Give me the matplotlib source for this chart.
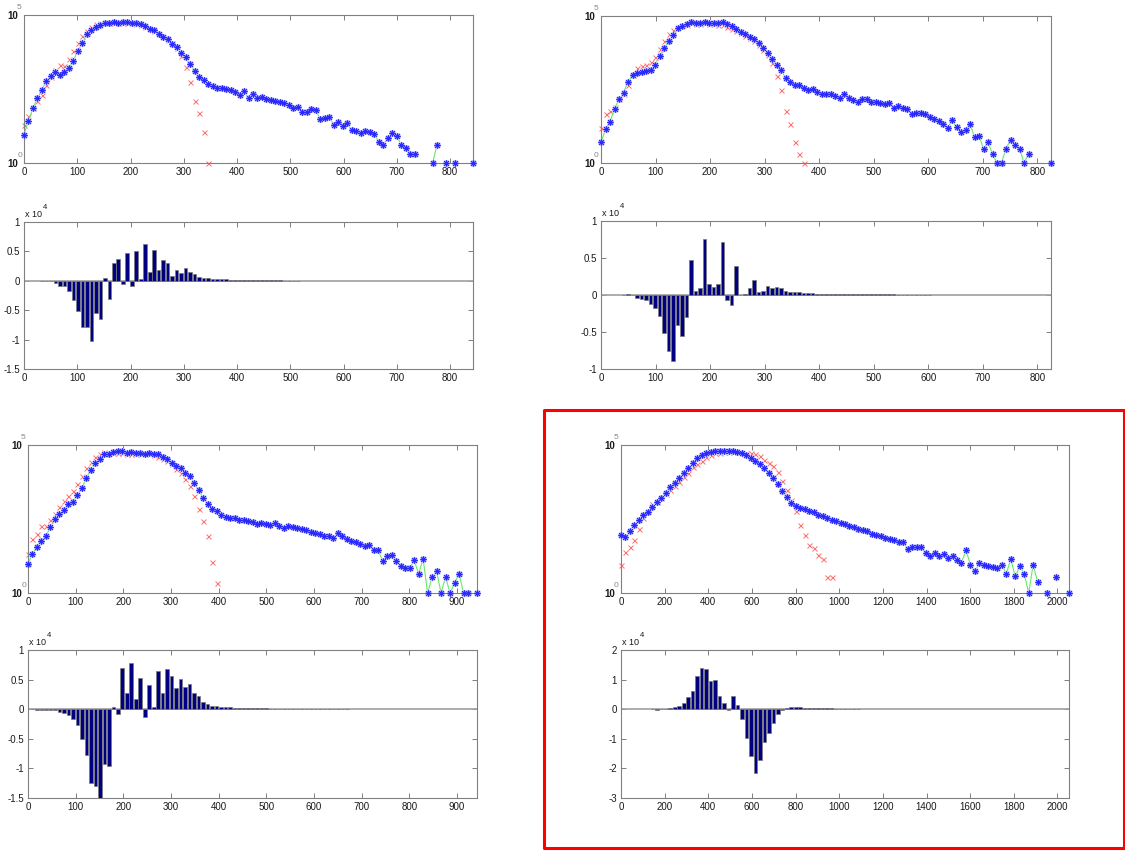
import numpy as np
import matplotlib
matplotlib.use("Agg")
import matplotlib.pyplot as plt
from matplotlib import transforms
from matplotlib.patches import Rectangle
from matplotlib.ticker import NullLocator, FuncFormatter

plt.rcParams['font.family'] = ['Liberation Sans', 'DejaVu Sans']

nan = np.nan

# ---- panel 1 (top left) ----
bin1 = 8.43
blue1 = [0.96, 1.43, 1.85, 2.19, 2.47, 2.78, 2.94, 3.07, 2.98, 3.07,
         3.22, 3.45, 3.80, 4.04, 4.35, 4.49, 4.61, 4.66, 4.72, 4.74,
         4.75, 4.74, 4.75, 4.76, 4.72, 4.74, 4.70, 4.63, 4.52, 4.49,
         4.35, 4.27, 4.18, 4.02, 3.93, 3.73, 3.57, 3.34, 3.12, 2.89,
         2.81, 2.67, 2.61, 2.55, 2.53, 2.51, 2.45, 2.39, 2.30, 2.42,
         2.19, 2.33, 2.18, 2.22, 2.15, 2.13, 2.11, 2.06, 2.02, 1.96,
         1.85, 1.89, 1.71, 1.73, 1.82, 1.78, 1.48, 1.53, 1.54, 1.29,
         1.37, 1.24, 1.35, 1.10, 1.09, 1.01, 1.08, 1.06, 0.99, 0.71,
         0.62, 0.84, 1.01, 0.92, 0.62, 0.51, 0.31, 0.31, nan, nan,
         nan, 0, 0.62, nan, 0, nan, 0, nan, nan, nan, 0]
red1 = [1.29, 1.60, 1.85, 2.08, 2.30, 2.64, 2.92, 3.15, 3.30, 3.29,
        3.52, 3.79, 4.04, 4.29, 4.46, 4.61, 4.69, 4.72, 4.73, 4.74,
        4.74, 4.73, 4.73, 4.73, 4.72, 4.70, 4.67, 4.60, 4.52, 4.45,
        4.36, 4.25, 4.15, 4.05, 3.88, 3.60, 3.24, 2.72, 2.08, 1.69,
        1.04, 0]
diff1_start = 4
diff1 = [0.005, 0.005, -0.01, -0.045, -0.09, -0.09, -0.17, -0.33, -0.51, -0.78,
         -0.78, -1.03, -0.55, -0.65, 0.05, -0.31, 0.31, 0.37, -0.06, 0.47,
         -0.08, 0.50, 0.03, 0.63, 0.15, 0.53, 0.18, 0.36, 0.31, 0.09,
         0.18, 0.14, 0.21, 0.15, 0.12, 0.06, 0.05, 0.04, 0.035, 0.03,
         0.03, 0.025, 0.02, 0.02, 0.015, 0.02, 0.015, 0.01, 0.012, 0.01,
         0.008, 0.008, 0.006, 0.006, 0.005, 0.005, 0.005, 0.004]

# ---- panel 2 (top right) ----
bin2 = 8.25
blue2 = [0.70, 1.14, 1.40, 1.85, 2.16, 2.39, 2.76, 2.98, 3.07, 3.10,
         3.13, 3.16, 3.34, 3.64, 3.90, 4.15, 4.34, 4.58, 4.66, 4.74,
         4.80, 4.77, 4.77, 4.81, 4.77, 4.77, 4.75, 4.81, 4.72, 4.66,
         4.57, 4.45, 4.38, 4.28, 4.23, 4.07, 3.92, 3.75, 3.55, 3.35,
         3.16, 2.90, 2.75, 2.67, 2.64, 2.56, 2.50, 2.52, 2.43, 2.36,
         2.36, 2.33, 2.27, 2.22, 2.33, 2.22, 2.13, 2.07, 2.16, 2.18,
         2.09, 2.07, 2.05, 1.99, 2.05, 1.88, 1.93, 1.88, 1.84, 1.65,
         1.70, 1.70, 1.65, 1.57, 1.48, 1.42, 1.31, 1.19, 1.45, 1.21,
         1.04, 1.13, 1.34, 0.87, 0.92, 0.49, 0.70, 0.31, 0, 0,
         0.49, 0.79, 0.60, 0.49, 0, 0.31, nan, nan, nan, nan, 0]
red2 = [1.19, 1.65, 1.76, 1.91, 2.19, 2.35, 2.67, 2.98, 3.22, 3.30,
        3.32, 3.44, 3.61, 3.89, 4.15, 4.38, 4.51, 4.62, 4.68, 4.70,
        4.75, 4.74, 4.74, 4.75, 4.74, 4.73, 4.70, 4.68, 4.62, 4.57,
        4.50, 4.42, 4.33, 4.25, 4.15, 4.02, 3.85, 3.68, 3.41, 2.95,
        2.48, 1.76, 1.33, 0.72, 0.32, 0]
diff2_start = 5
diff2 = [0.005, 0.01, 0.002, -0.04, -0.06, -0.07, -0.12, -0.18, -0.28, -0.51,
         -0.76, -0.89, -0.41, -0.55, -0.30, 0.47, 0.06, 0.10, 0.76, 0.15,
         0.11, 0.15, 0.72, -0.07, -0.14, 0.39, 0.005, 0.02, 0.09, 0.20,
         0.04, 0.06, 0.12, 0.10, 0.11, 0.10, 0.06, 0.045, 0.04, 0.035,
         0.03, 0.025, 0.03, 0.02, 0.02, 0.02, 0.015, 0.015, 0.01, 0.015,
         0.01, 0.01, 0.01, 0.01, 0.008, 0.01, 0.01, 0.008, 0.008, 0.008,
         0.012, 0.006, 0.006, 0.005, 0.005, 0.005, 0.005, 0.005, 0.004]

# ---- panel 3 (bottom left) ----
bin3 = 9.42
blue3 = [0.99, 1.33, 1.54, 1.76, 1.93, 2.22, 2.49, 2.66, 2.81, 3.01,
         3.07, 3.31, 3.54, 3.90, 4.16, 4.38, 4.53, 4.70, 4.69, 4.75,
         4.79, 4.81, 4.74, 4.76, 4.72, 4.72, 4.70, 4.72, 4.69, 4.69,
         4.58, 4.52, 4.40, 4.29, 4.21, 4.04, 3.96, 3.71, 3.48, 3.20,
         3.01, 2.83, 2.78, 2.64, 2.58, 2.55, 2.53, 2.45, 2.47, 2.42,
         2.40, 2.34, 2.36, 2.34, 2.30, 2.38, 2.25, 2.18, 2.28, 2.24,
         2.19, 2.16, 2.13, 2.06, 2.04, 1.99, 1.93, 1.91, 1.85, 2.02,
         1.91, 1.82, 1.76, 1.72, 1.66, 1.60, 1.63, 1.44, 1.44, 1.07,
         1.24, 1.27, 1.07, 0.90, 0.84, 0.84, 1.10, 0.65, 1.15, 0,
         0.54, 0.73, 0, 0.54, 0, 0.34, 0.65, 0, 0, nan, 0]
red3 = [1.31, 1.82, 1.99, 2.25, 2.25, 2.45, 2.66, 2.89, 3.11, 3.28,
        3.45, 3.69, 3.96, 4.21, 4.42, 4.58, 4.69, 4.75, 4.74, 4.74,
        4.73, 4.72, 4.71, 4.71, 4.70, 4.70, 4.70, 4.68, 4.65, 4.60,
        4.52, 4.45, 4.35, 4.20, 4.05, 3.85, 3.60, 3.29, 2.84, 2.42,
        1.91, 1.04, 0.34]
diff3_start = 1
diff3 = [0.002, -0.01, -0.015, -0.01, -0.01, -0.02, -0.04, -0.07, -0.09, -0.17,
         -0.26, -0.50, -0.78, -1.25, -1.30, -1.50, -0.93, -0.96, 0.03, -0.08,
         0.70, 0.28, 0.78, 0.18, 0.52, -0.13, 0.41, 0.04, 0.65, 0.28,
         0.68, 0.56, 0.35, 0.51, 0.37, 0.43, 0.27, 0.22, 0.13, 0.09,
         0.06, 0.05, 0.04, 0.03, 0.03, 0.025, 0.025, 0.02, 0.025, 0.015,
         0.015, 0.015, 0.015, 0.01, 0.01, 0.01, 0.01, 0.008, 0.008, 0.008,
         0.008, 0.006, 0.006, 0.006, 0.006, 0.005, 0.005, 0.005, 0.005, 0.01, 0.005]

# ---- panel 4 (bottom right, boxed) ----
bin4 = 20.53
blue4 = [1.97, 1.89, 2.08, 2.30, 2.45, 2.64, 2.75, 2.92, 3.07, 3.22,
         3.39, 3.57, 3.71, 3.88, 4.04, 4.21, 4.38, 4.55, 4.66, 4.72,
         4.75, 4.79, 4.80, 4.81, 4.80, 4.80, 4.78, 4.72, 4.66, 4.55,
         4.46, 4.35, 4.21, 4.04, 3.88, 3.69, 3.46, 3.24, 3.03, 2.94,
         2.87, 2.83, 2.78, 2.72, 2.64, 2.61, 2.53, 2.47, 2.42, 2.36,
         2.32, 2.27, 2.22, 2.16, 2.13, 2.08, 2.00, 1.95, 1.91, 1.87,
         1.82, 1.80, 1.72, 1.71, 1.49, 1.55, 1.57, 1.55, 1.35, 1.26,
         1.35, 1.26, 1.33, 1.18, 1.24, 1.12, 1.03, 1.44, 0.96, 0.73,
         1.01, 0.96, 0.90, 0.88, 0.84, 0.96, 0.65, 1.15, 0.56, 0.90,
         0.65, 0, 0.96, 0.36, nan, 0, nan, 0.53, nan, nan, 0]
red4 = [0.96, 1.40, 1.57, 1.78, 2.16, 2.53, 2.78, 3.01, 3.09, 3.22,
        3.34, 3.48, 3.62, 3.76, 3.93, 4.07, 4.24, 4.35, 4.47, 4.58,
        4.66, 4.72, 4.74, 4.75, 4.75, 4.75, 4.76, 4.74, 4.74, 4.72,
        4.70, 4.63, 4.49, 4.40, 4.29, 4.10, 3.80, 3.48, 3.15, 2.77,
        2.30, 1.97, 1.63, 1.52, 1.29, 1.16, 0.53, 0.53]
diff4_start = 7
diff4 = [-0.01, -0.02, -0.01, 0.01, 0.04, 0.06, 0.11, 0.20, 0.40, 0.62,
         1.12, 1.39, 1.37, 0.95, 0.97, 0.43, 0.21, -0.03, 0.43, 0.14,
         -0.34, -0.96, -1.57, -2.17, -1.70, -1.10, -0.80, -0.48, -0.16, -0.04,
         0.03, 0.07, 0.07, 0.06, 0.05, 0.05, 0.04, 0.04, 0.03, 0.03,
         0.03, 0.02, 0.02, 0.02, 0.02, 0.02, 0.02]

xticks_small = [0, 100, 200, 300, 400, 500, 600, 700, 800]
xticks_mid = [0, 100, 200, 300, 400, 500, 600, 700, 800, 900]
xticks_big = [0, 200, 400, 600, 800, 1000, 1200, 1400, 1600, 1800, 2000]

W, H = 1125, 851
fig = plt.figure(figsize=(W / 100, H / 100), dpi=100)

GRAY = '#808080'


def px_rect(l, t, r, b):
    return [l / W, 1 - b / H, (r - l) / W, (b - t) / H]


def style_axes(ax, xticks, xmax):
    ax.set_xlim(0, xmax)
    ax.set_xticks(xticks)
    for s in ax.spines.values():
        s.set_color(GRAY)
        s.set_linewidth(0.8)
    ax.tick_params(which='major', direction='in', top=True, right=True,
                   length=3.5, width=0.7, color=GRAY, labelsize=7,
                   labelcolor='#1a1a1a', pad=3)
    ax.tick_params(which='minor', length=0)


def offset_text(ax, x, y, dx, dy, s, **kw):
    tr = transforms.offset_copy(ax.transAxes, fig=fig, x=dx, y=dy, units='dots')
    ax.text(x, y, s, transform=tr, **kw)


def draw_counts(rect, width, blue, red, xticks):
    ax = fig.add_axes(px_rect(*rect))
    xb = np.arange(len(blue)) * width
    xr = np.arange(len(red)) * width
    yb = 10.0 ** np.array(blue)
    yr = 10.0 ** np.array(red)
    ax.plot(xr, yr, ls='none', marker='x', ms=3.6, mew=0.7, color='#ff6f6f',
            clip_on=False, zorder=2)
    ax.plot(xb, yb, color='#62ec62', lw=0.8, zorder=3)
    ax.plot(xb, yb, ls='none', marker=(8, 2, 0), ms=5, mew=1.8,
            color='#c4c4ff', clip_on=False, zorder=4)
    ax.plot(xb, yb, ls='none', marker=(8, 2, 0), ms=4.2, mew=0.7,
            color='#2a2aff', clip_on=False, zorder=5)
    ax.set_yscale('log')
    ax.set_ylim(1, 1e5)
    ax.yaxis.set_minor_locator(NullLocator())
    ax.set_yticks([1, 1e5])
    ax.set_yticklabels(['10', '10'], fontweight='bold')
    style_axes(ax, xticks, 100 * width)
    ax.tick_params(axis='y', pad=4)
    offset_text(ax, 0, 0, -4.5, 4, '0', fontsize=6, color='#888888',
                ha='center', va='bottom')
    offset_text(ax, 0, 1, -4.5, 4, '5', fontsize=6, color='#888888',
                ha='center', va='bottom')
    return ax


def draw_diff(rect, width, start, vals, xticks, ylim, yticks):
    ax = fig.add_axes(px_rect(*rect))
    x = (start + np.arange(len(vals))) * width
    ax.bar(x, vals, width=0.8 * width, color='#000080', edgecolor='#7a7a7a',
           linewidth=0.5, zorder=3)
    ax.axhline(0, color='#a0a0a0', lw=1.2, zorder=2)
    ax.set_ylim(*ylim)
    ax.set_yticks(yticks)
    ax.yaxis.set_major_formatter(FuncFormatter(lambda v, p: '%g' % v))
    style_axes(ax, xticks, 100 * width)
    offset_text(ax, 0, 1, 1, 3, 'x 10', fontsize=6.5, color='#1a1a1a',
                ha='left', va='bottom')
    offset_text(ax, 0, 1, 19, 11, '4', fontsize=5.5, color='#1a1a1a',
                ha='left', va='bottom')
    return ax


draw_counts((24, 15, 473, 163), bin1, blue1, red1, xticks_small)
draw_diff((24, 222, 473, 369), bin1, diff1_start, diff1, xticks_small,
          (-1.5, 1), [-1.5, -1, -0.5, 0, 0.5, 1])

draw_counts((601, 16, 1051, 163), bin2, blue2, red2, xticks_small)
draw_diff((601, 221, 1051, 369), bin2, diff2_start, diff2, xticks_small,
          (-1, 1), [-1, -0.5, 0, 0.5, 1])

draw_counts((28, 445, 477, 593), bin3, blue3, red3, xticks_mid)
draw_diff((28, 650, 477, 798), bin3, diff3_start, diff3, xticks_mid,
          (-1.5, 1), [-1.5, -1, -0.5, 0, 0.5, 1])

draw_counts((621, 445, 1069, 593), bin4, blue4, red4, xticks_big)
draw_diff((621, 650, 1069, 798), bin4, diff4_start, diff4, xticks_big,
          (-3, 2), [-3, -2, -1, 0, 1, 2])

# red highlight frame around the last pair
box = Rectangle((543.5 / W, 1 - 848 / H), 580 / W, 438 / H,
                transform=fig.transFigure, fill=False, edgecolor='#ff0000',
                linewidth=2.2, joinstyle='round')
fig.patches.append(box)

fig.savefig('out.png', dpi=100)
